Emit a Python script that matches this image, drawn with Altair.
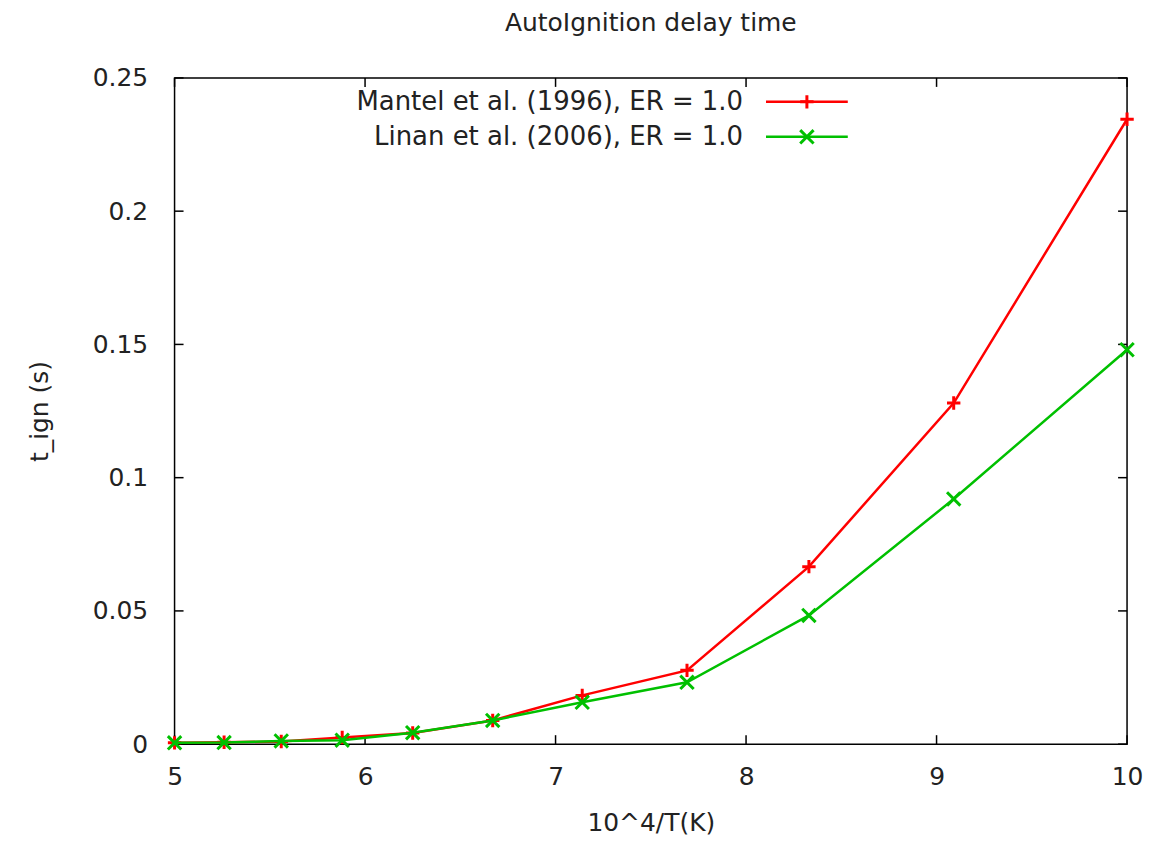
import altair as alt
import pandas as pd

x_vals = [5.0, 5.26, 5.56, 5.88, 6.25, 6.67, 7.14, 7.69, 8.33, 9.09, 10.0]
mantel = [0.0005, 0.0007, 0.001, 0.0025, 0.0042, 0.0089, 0.0183, 0.0277, 0.0666, 0.128, 0.2345]
linan = [0.0005, 0.0006, 0.0012, 0.0015, 0.0043, 0.0089, 0.0157, 0.0232, 0.0483, 0.092, 0.148]
series_names = ["Mantel et al. (1996), ER = 1.0", "Linan et al. (2006), ER = 1.0"]
x_ticks = [5, 6, 7, 8, 9, 10]
y_ticks = [0, 0.05, 0.1, 0.15, 0.2, 0.25]

W, H = 955, 668
FONT = "DejaVu Sans"
FS = 25
TXT = "#222222"
RED = "#ff0000"
GREEN = "#00c000"
PLUS = "M-1,0L1,0M0,-1L0,1"
CROSS = "M-1,-1L1,1M-1,1L1,-1"

df = pd.DataFrame({
    "x": x_vals * 2,
    "y": mantel + linan,
    "series": [series_names[0]] * len(x_vals) + [series_names[1]] * len(x_vals),
})

xs = alt.Scale(domain=[5, 10], nice=False, zero=False)
ys = alt.Scale(domain=[0, 0.25], nice=False)

x_axis = alt.Axis(values=x_ticks, ticks=False, domain=False, grid=False, labelFont=FONT,
                  labelFontSize=FS, labelColor=TXT, labelPadding=20, format="d",
                  labelFlush=False, labelOverlap=False,
                  title="10^4/T(K)", titleFont=FONT, titleFontSize=FS, titleFontWeight="normal",
                  titleColor=TXT, titlePadding=22)
y_axis = alt.Axis(values=y_ticks, ticks=False, domain=False, grid=False, labelFont=FONT,
                  labelFontSize=FS, labelColor=TXT, labelPadding=27, format="~g",
                  labelFlush=False, labelOverlap=False,
                  title="t_ign (s)", titleFont=FONT, titleFontSize=FS, titleFontWeight="normal",
                  titleColor=TXT, titlePadding=40)

base = alt.Chart(df)

lines = []
for name, col, shape in [(series_names[0], RED, PLUS), (series_names[1], GREEN, CROSS)]:
    sub = base.transform_filter(alt.datum.series == name)
    ln = sub.mark_line(color=col, strokeWidth=2.5, clip=False).encode(
        x=alt.X("x:Q", scale=xs, axis=x_axis),
        y=alt.Y("y:Q", scale=ys, axis=y_axis),
    )
    pt = sub.mark_point(shape=shape, color=col, filled=False, strokeWidth=3, size=180, clip=False,
                        opacity=1).encode(
        x=alt.X("x:Q", scale=xs),
        y=alt.Y("y:Q", scale=ys),
    )
    lines += [ln, pt]

xt = pd.DataFrame({"t": x_ticks})
yt = pd.DataFrame({"t": y_ticks})
tick_len = 9
ticks = [
    alt.Chart(xt).mark_rule(color="black", strokeWidth=1.5).encode(
        x=alt.X("t:Q", scale=xs), y=alt.value(H), y2=alt.value(H - tick_len)),
    alt.Chart(xt).mark_rule(color="black", strokeWidth=1.5).encode(
        x=alt.X("t:Q", scale=xs), y=alt.value(0), y2=alt.value(tick_len)),
    alt.Chart(yt).mark_rule(color="black", strokeWidth=1.5).encode(
        y=alt.Y("t:Q", scale=ys), x=alt.value(0), x2=alt.value(tick_len)),
    alt.Chart(yt).mark_rule(color="black", strokeWidth=1.5).encode(
        y=alt.Y("t:Q", scale=ys), x=alt.value(W), x2=alt.value(W - tick_len)),
]

# legend (gnuplot style: text then line sample)
leg = []
for i, (name, col, shape) in enumerate([(series_names[0], RED, PLUS), (series_names[1], GREEN, CROSS)]):
    ly = 24 + i * 35
    ldf = pd.DataFrame({"label": [name]})
    leg.append(alt.Chart(ldf).mark_text(align="right", baseline="middle", font=FONT, fontSize=FS + 1,
                                        color=TXT).encode(
        text="label:N", x=alt.value(570), y=alt.value(ly)))
    leg.append(alt.Chart(ldf).mark_rule(color=col, strokeWidth=2.5).encode(
        x=alt.value(593), x2=alt.value(675), y=alt.value(ly)))
    leg.append(alt.Chart(ldf).mark_point(shape=shape, color=col, filled=False, strokeWidth=3,
                                         size=180, opacity=1).encode(x=alt.value(634), y=alt.value(ly)))

chart = alt.layer(*ticks, *lines, *leg).properties(
    width=W, height=H,
    title=alt.TitleParams("AutoIgnition delay time", font=FONT, fontSize=FS, fontWeight="normal",
                          color=TXT, offset=30, anchor="middle"),
    autosize=alt.AutoSizeParams(type="none"),
    padding={"left": 167, "top": 69, "right": 20, "bottom": 100},
).configure(background="white").configure_view(stroke="black", strokeWidth=1.5)

chart.save("out.html", embed_options={"renderer": "svg", "actions": False})
